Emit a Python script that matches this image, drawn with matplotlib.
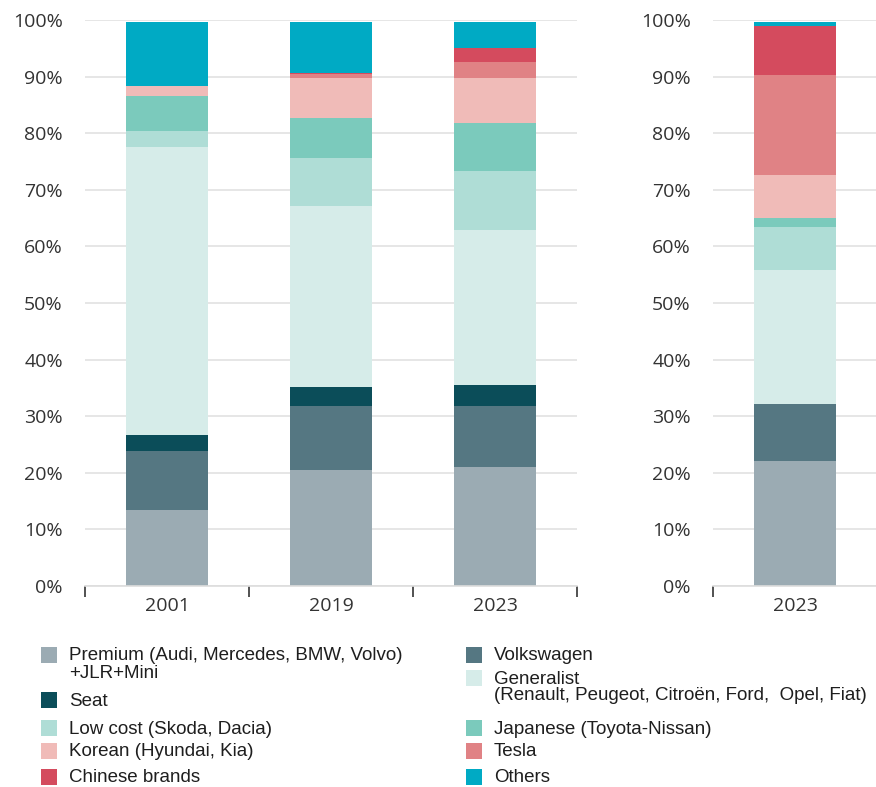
import matplotlib
matplotlib.use('Agg')
import matplotlib.pyplot as plt
from matplotlib.patches import Rectangle
from matplotlib.ticker import FixedLocator, FuncFormatter

# Market share by brand group (%)
years = ['2001', '2019', '2023']
premium = [13.4, 20.5, 21.0]
volkswagen = [10.5, 11.3, 10.8]
seat = [2.8, 3.4, 3.7]
generalist = [50.9, 32.0, 27.4]
low_cost = [2.8, 8.5, 10.5]
japanese = [6.1, 7.0, 8.4]
korean = [1.9, 7.1, 8.0]
tesla = [0.0, 0.6, 2.8]
chinese = [0.0, 0.3, 2.5]
others = [11.3, 9.0, 4.6]

# right panel: 2023 (electric)
years_ev = ['2023']
ev_2023 = [22.0, 10.2, 0.0, 23.7, 7.5, 1.7, 7.5, 17.6, 8.7, 0.7]

labels = ['Premium (Audi, Mercedes, BMW, Volvo)\n+JLR+Mini', 'Volkswagen', 'Seat',
          'Generalist\n(Renault, Peugeot, Citroën, Ford,  Opel, Fiat)',
          'Low cost (Skoda, Dacia)', 'Japanese (Toyota-Nissan)', 'Korean (Hyundai, Kia)',
          'Tesla', 'Chinese brands', 'Others']
colors = ['#9BABB3', '#557782', '#0B4D59', '#D6ECE9', '#AFDDD6', '#7BCABC',
          '#F0BBB8', '#E08285', '#D44B5E', '#00AAC4']

series = [premium, volkswagen, seat, generalist, low_cost, japanese, korean, tesla, chinese, others]

W, H = 876, 787
fig = plt.figure(figsize=(W / 100, H / 100), dpi=100)

tick_font = ['Open Sans', 'DejaVu Sans']
leg_font = ['Liberation Sans', 'DejaVu Sans']


def style_axes(ax, ncat):
    ax.set_ylim(0, 100)
    ax.set_xlim(-0.5, ncat - 0.5)
    ax.set_axisbelow(True)
    for s in ['left', 'right', 'top']:
        ax.spines[s].set_visible(False)
    ax.spines['bottom'].set_color('#DDDDDD')
    ax.spines['bottom'].set_linewidth(1.2)
    ax.yaxis.set_major_locator(FixedLocator(range(0, 101, 10)))
    ax.yaxis.set_major_formatter(FuncFormatter(lambda v, p: '%d%%' % v))
    ax.grid(axis='y', color='#E2E2E2', linewidth=1.2)
    ax.tick_params(axis='y', length=0, pad=16, labelsize=14, labelcolor='#333333')
    ax.set_xticks(range(ncat))
    ax.tick_params(axis='x', which='major', length=0, pad=8, labelsize=14, labelcolor='#333333')
    ax.set_xticks([i - 0.5 for i in range(ncat + 1)], minor=True)
    ax.tick_params(axis='x', which='minor', length=8, width=1.2, color='#333333', direction='out')
    for t in ax.get_xticklabels() + ax.get_yticklabels():
        t.set_family(tick_font)


ax1 = fig.add_axes([85 / W, 1 - 586 / H, 492 / W, 566 / H])
bottom = [0, 0, 0]
for vals, c in zip(series, colors):
    ax1.bar(years, vals, width=0.5, bottom=bottom, color=c, linewidth=0)
    bottom = [b + v for b, v in zip(bottom, vals)]
style_axes(ax1, len(years))

ax2 = fig.add_axes([713 / W, 1 - 586 / H, 164 / W, 566 / H])
b = 0
for v, c in zip(ev_2023, colors):
    ax2.bar(years_ev, [v], width=0.5, bottom=[b], color=c, linewidth=0)
    b += v
style_axes(ax2, len(years_ev))

# legend, drawn by hand (row-wise, two columns, markers aligned with first line)
marker_top = [647, 647, 692, 670, 720, 720, 743, 743, 769, 769]
col_x = [41, 466]
for k in range(len(labels)):
    x = col_x[k % 2]
    y = marker_top[k]
    fig.patches.append(Rectangle((x / W, 1 - (y + 16) / H), 16 / W, 16 / H,
                                 transform=fig.transFigure, color=colors[k], linewidth=0))
    fig.text((x + 28) / W, 1 - (y + 0.5) / H, labels[k], ha='left', va='top',
             fontsize=13.5, color='#1E1E1E', family=leg_font, linespacing=1.0,
             multialignment='left')

fig.savefig('out.png', dpi=100)
